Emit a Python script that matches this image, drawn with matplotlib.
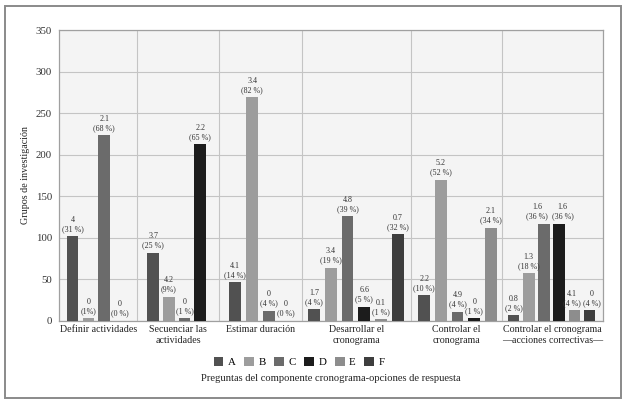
import matplotlib
matplotlib.use("Agg")
import matplotlib.pyplot as plt
from matplotlib.patches import Rectangle, Patch

plt.rcParams['font.family'] = ['Liberation Serif', 'DejaVu Serif']

# ---------------- data ----------------
categories = ["Definir actividades", "Secuenciar las\nactividades", "Estimar duración",
              "Desarrollar el\ncronograma", "Controlar el\ncronograma",
              "Controlar el cronograma\n—acciones correctivas—"]
series_names = ["A", "B", "C", "D", "E", "F"]

A = [102, 82, 46, 14, 31, 7]
B = [3, 29, 269, 64, 170, 57]
C = [223, 3, 12, 126, 11, 117]
D = [0, 213, 0, 17, 3, 117]
E = [None, None, None, 2, 112, 13]
F = [None, None, None, 104, None, 13]

A_lab = ["4\n(31 %)", "3.7\n(25 %)", "4.1\n(14 %)", "1.7\n(4 %)", "2.2\n(10 %)", "0.8\n(2 %)"]
B_lab = ["0\n(1%)", "4.2\n(9%)", "3.4\n(82 %)", "3.4\n(19 %)", "5.2\n(52 %)", "1.3\n(18 %)"]
C_lab = ["2.1\n(68 %)", "0\n(1 %)", "0\n(4 %)", "4.8\n(39 %)", "4.9\n(4 %)", "1.6\n(36 %)"]
D_lab = ["0\n(0 %)", "2.2\n(65 %)", "0\n(0 %)", "6.6\n(5 %)", "0\n(1 %)", "1.6\n(36 %)"]
E_lab = [None, None, None, "0.1\n(1 %)", "2.1\n(34 %)", "4.1\n(4 %)"]
F_lab = [None, None, None, "0.7\n(32 %)", None, "0\n(4 %)"]

series_values = [A, B, C, D, E, F]
series_labels = [A_lab, B_lab, C_lab, D_lab, E_lab, F_lab]

# ---------------- style / layout ----------------
colors = ["#515151", "#9d9d9d", "#6b6b6b", "#1c1c1c", "#8d8d8d", "#3e3e3e"]
group_widths = [78.3, 82, 83, 108.4, 91, 101]
group_pads = [7.7, 10, 10, 6, 7.6, 6]
group_pitch = [15.8, 15.7, 17, 16.7, 16.7, 15.2]
bar_w = 11.7
# horizontal nudges (points) of a few crowded value labels: (series, group) -> dx
label_nudge = {(2, 5): -5.0, (3, 5): 2.5, (4, 5): -1.6, (5, 5): 1.6}

W, H = 627, 404
fig = plt.figure(figsize=(W / 100, H / 100), dpi=100)
fig.patch.set_facecolor("white")
fig.add_artist(Rectangle((5 / W, 6 / H), 616 / W, 392 / H, transform=fig.transFigure,
                         fill=False, edgecolor="#8a8a8a", linewidth=1.4))

ax = fig.add_axes([59 / W, (H - 320.7) / H, (602.7 - 59) / W, (320.7 - 30) / H])
ax.set_facecolor("#f4f4f4")

edges = [0]
for w in group_widths:
    edges.append(edges[-1] + w)

for g in range(len(categories)):
    slot = 0
    for s in range(len(series_names)):
        v = series_values[s][g]
        if v is None:
            continue
        left = edges[g] + group_pads[g] + slot * group_pitch[g]
        cx = left + bar_w / 2
        ax.bar(cx, v, width=bar_w, color=colors[s], zorder=3)
        ax.annotate(series_labels[s][g], xy=(cx, v),
                    xytext=(label_nudge.get((s, g), 0), 2.2),
                    textcoords="offset points", ha="center", va="bottom",
                    fontsize=5.8, linespacing=1.2, color="#333333", zorder=4)
        slot += 1

ax.set_xlim(0, edges[-1])
ax.set_ylim(0, 350)
ax.set_yticks(range(0, 351, 50))
ax.tick_params(axis="y", length=0, pad=5, labelsize=7.8, labelcolor="#333333")
ax.set_xticks([(edges[i] + edges[i + 1]) / 2 for i in range(len(categories))])
ax.set_xticklabels(categories, fontsize=7.2, color="#222222", linespacing=1.25, va="top")
ax.tick_params(axis="x", length=0, pad=3)

ax.yaxis.grid(True, color="#c4c4c4", linewidth=0.8, zorder=0)
for e in edges[1:-1]:
    ax.axvline(e, color="#c4c4c4", linewidth=0.8, zorder=0)
for sp in ax.spines.values():
    sp.set_color("#a0a0a0")
    sp.set_linewidth(0.9)

ax.set_ylabel("Grupos de investigación", fontsize=7.2, color="#222222", labelpad=4)
ax.set_xlabel("Preguntas del componente cronograma-opciones de respuesta",
              fontsize=7.6, color="#222222", labelpad=21)

handles = [Patch(facecolor=colors[i], edgecolor="none", label=series_names[i])
           for i in range(len(series_names))]
fig.legend(handles=handles, loc="center", bbox_to_anchor=(299 / W, (H - 362) / H),
           ncol=6, frameon=False, fontsize=7.8, handlelength=0.9, handleheight=0.9,
           handletextpad=0.4, columnspacing=0.8)

fig.savefig("out.png", dpi=100, facecolor="white")
